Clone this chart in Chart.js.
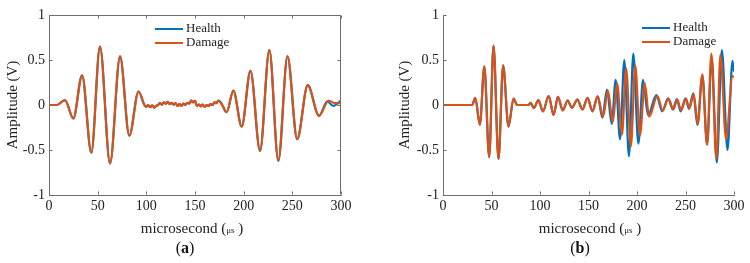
<!DOCTYPE html>
<html>
<head>
<meta charset="utf-8">
<script src="https://cdn.jsdelivr.net/npm/chart.js@4"></script>
<style>
  body { margin: 0; background: #fff; width: 750px; height: 263px; overflow: hidden; position: relative; font-family: 'Liberation Serif', 'Times New Roman', serif; }
  .panel { position: absolute; top: 0; width: 375px; height: 263px; }
  .xt { position: absolute; width: 240px; text-align: center; font-size: 15px; line-height: 18px; color: #222; }
  .xt span { font-size: 9px; }
  .cap { position: absolute; width: 60px; text-align: center; font-size: 16px; line-height: 20px; color: #111; }
</style>
</head>
<body>
<div class="panel" style="left:0"><canvas id="grafico-a" width="375" height="263"></canvas></div>
<div class="panel" style="left:375px"><canvas id="grafico-b" width="375" height="263"></canvas></div>
<div class="xt" style="left:72px;top:219px">microsecond (<span>μs</span> )</div>
<div class="xt" style="left:470px;top:219px">microsecond (<span>μs</span> )</div>
<div class="cap" style="left:155px;top:238px">(<b>a</b>)</div>
<div class="cap" style="left:550px;top:238px">(<b>b</b>)</div>
<script>
// Panel (a): both signals are the same up to ~277 µs
const timeA = [0, 8, 16.4, 25, 34, 43.5, 52.4, 62.7, 73, 82.5, 92,
  98, 100, 102, 104, 106, 108, 110, 112, 114, 116, 118, 120, 122, 124, 126, 128, 130, 132, 134, 136,
  138, 140, 142, 144, 146, 148, 150, 152, 154, 156, 158, 160, 162, 164, 166, 168, 170, 172, 174, 176, 178,
  182.5, 189.4, 198, 207, 216.8, 226.4, 235.6, 245, 255, 265.8, 277.4];
const ampA = [0, 0, 0.055, -0.15, 0.33, -0.53, 0.65, -0.65, 0.54, -0.34, 0.15,
  0, -0.02, 0, -0.025, -0.005, -0.03, -0.01, 0, 0.02, 0.005, 0.03, 0.015, 0.035, 0.01, 0.025, 0.005, 0.02, -0.01, 0.01, -0.01,
  0.015, 0, 0.025, 0.015, 0.05, 0.03, 0.045, -0.01, 0.005, -0.015, 0.005, -0.02, 0, -0.01, 0.01, 0, 0.03, 0.02, 0.05, 0.035, 0,
  -0.08, 0.16, -0.24, 0.38, -0.51, 0.61, -0.62, 0.54, -0.38, 0.22, -0.12];
const healthTailTimeA = [286, 292, 300];
const healthTailA = [0.04, -0.01, 0.05];
const damageTailTimeA = [287.5, 294, 300];
const damageTailA = [0.05, 0.02, 0.02];

// Panel (b): same up to ~160 µs, then they split
const timeB = [0, 30, 33.3, 38, 42.6, 47.6, 52.1, 57.2, 62, 67.5, 72.7, 76.5, 88, 90.3, 93.5, 98.4, 103,
  109, 114, 118.5, 123.5, 128.5, 133, 138.5, 143.8, 149, 154, 159.5];
const ampB = [0, 0, 0.08, -0.22, 0.43, -0.58, 0.66, -0.6, 0.44, -0.24, 0.07, 0, 0, 0.025, -0.035, 0.055, -0.07,
  0.1, -0.11, 0.09, -0.06, 0.05, -0.03, 0.06, -0.05, 0.08, -0.07, 0.095];
const healthTailTimeB = [164.3, 169, 174, 178, 182.5, 186.9, 191.7, 196.2, 201.4, 206.2, 211.3, 220, 226, 232, 237,
  241, 245, 250, 253.5, 258, 262.3, 267.3, 272.3, 277, 282.3, 287.5, 293.3, 298.4, 300];
const healthTailB = [-0.14, 0.17, -0.21, 0.28, -0.38, 0.5, -0.57, 0.57, -0.43, 0.28, -0.11, 0.11, -0.07, 0.075, -0.05,
  0.065, -0.07, 0.075, -0.04, 0.13, -0.22, 0.33, -0.44, 0.52, -0.64, 0.61, -0.5, 0.49, 0.37];
const damageTailTimeB = [165, 170, 175, 179.5, 184.5, 188.8, 193.7, 198.2, 203, 208, 212.5, 221, 226.5, 232.5, 237.5,
  241.5, 245.5, 250.5, 254, 258.4, 262.6, 267.4, 272.2, 276.7, 281.8, 286, 291.8, 298.5, 300];
const damageTailB = [-0.13, 0.16, -0.19, 0.24, -0.33, 0.41, -0.46, 0.44, -0.34, 0.24, -0.13, 0.1, -0.06, 0.07, -0.05,
  0.06, -0.06, 0.07, -0.04, 0.12, -0.21, 0.34, -0.44, 0.57, -0.6, 0.56, -0.38, 0.32, 0.31];

const seriesNames = ['Health', 'Damage'];
const xTicks = [0, 50, 100, 150, 200, 250, 300];
const yTicks = [-1, -0.5, 0, 0.5, 1];

const colorHealth = '#0072BD';
const colorDamage = '#D95319';
const axisColor = '#6e6e6e';
const textColor = '#222';
const serif = "'Liberation Serif', 'Times New Roman', serif";

Chart.defaults.font.family = serif;
Chart.defaults.color = textColor;

function puntos(ts, vs) {
  return ts.map((t, i) => ({ x: t, y: vs[i] }));
}

// legend drawn inside the plot area, matlab style
const leyenda = {
  id: 'leyenda',
  afterDatasetsDraw(chart, args, opts) {
    const { ctx, chartArea } = chart;
    ctx.save();
    ctx.font = '13px ' + serif;
    ctx.textBaseline = 'middle';
    chart.data.datasets.forEach((ds, i) => {
      const x = chartArea.left + opts.x;
      const y = chartArea.top + opts.y + i * 14;
      ctx.strokeStyle = ds.borderColor;
      ctx.lineWidth = 2;
      ctx.beginPath();
      ctx.moveTo(x, y);
      ctx.lineTo(x + 28, y);
      ctx.stroke();
      ctx.fillStyle = textColor;
      ctx.fillText(ds.label, x + 31, y);
    });
    ctx.restore();
  }
};

// inward tick marks and optional box
const marco = {
  id: 'marco',
  afterDraw(chart, args, opts) {
    const { ctx, chartArea: a, scales } = chart;
    const L = Math.round(a.left) + 0.5, R = Math.round(a.right) - 0.5;
    const T = Math.round(a.top) + 0.5, B = Math.round(a.bottom) - 0.5;
    ctx.save();
    ctx.strokeStyle = axisColor;
    ctx.lineWidth = 1;
    ctx.beginPath();
    if (opts.box) {
      ctx.moveTo(L, T); ctx.lineTo(R, T); ctx.lineTo(R, B);
    }
    xTicks.forEach(v => {
      const px = Math.round(scales.x.getPixelForValue(v)) + 0.5;
      ctx.moveTo(px, B); ctx.lineTo(px, B - 3);
      if (opts.box) { ctx.moveTo(px, T); ctx.lineTo(px, T + 3); }
    });
    yTicks.forEach(v => {
      const py = Math.round(scales.y.getPixelForValue(v)) + 0.5;
      ctx.moveTo(L, py); ctx.lineTo(L + 3, py);
      if (opts.box) { ctx.moveTo(R, py); ctx.lineTo(R - 3, py); }
    });
    ctx.stroke();
    ctx.restore();
  }
};

function crearGrafico(canvasId, health, damage, cfg) {
  return new Chart(document.getElementById(canvasId), {
    type: 'line',
    data: {
      datasets: [
        { label: seriesNames[0], data: health, borderColor: colorHealth, order: 1 },
        { label: seriesNames[1], data: damage, borderColor: colorDamage, order: 0 }
      ]
    },
    options: {
      responsive: false,
      animation: false,
      devicePixelRatio: 1,
      layout: { padding: { top: 15, bottom: 0, left: cfg.padLeft, right: cfg.padRight } },
      elements: {
        point: { radius: 0 },
        line: { borderWidth: 2.2, cubicInterpolationMode: 'monotone', fill: false }
      },
      plugins: {
        legend: { display: false },
        tooltip: { enabled: false },
        leyenda: { x: cfg.legX, y: cfg.legY },
        marco: { box: cfg.box }
      },
      scales: {
        x: {
          type: 'linear', min: 0, max: 300,
          afterBuildTicks: s => { s.ticks = xTicks.map(v => ({ value: v })); },
          afterFit: s => { s.height = 68; },
          grid: { display: false, drawTicks: false },
          border: { display: true, color: axisColor, width: 1 },
          ticks: { padding: 3, font: { size: 14 }, color: textColor, maxRotation: 0, callback: v => String(v) }
        },
        y: {
          min: -1, max: 1,
          afterBuildTicks: s => { s.ticks = yTicks.map(v => ({ value: v })); },
          afterFit: s => { s.width = cfg.yWidth; },
          grid: { display: false, drawTicks: false },
          border: { display: true, color: axisColor, width: 1 },
          ticks: { padding: 4, font: { size: 14 }, color: textColor, callback: v => String(v) },
          title: { display: true, text: 'Amplitude (V)', font: { size: 15 }, color: textColor, padding: { top: 4, bottom: 0 } }
        }
      }
    },
    plugins: [leyenda, marco]
  });
}

crearGrafico('grafico-a',
  puntos(timeA.concat(healthTailTimeA), ampA.concat(healthTailA)),
  puntos(timeA.concat(damageTailTimeA), ampA.concat(damageTailA)),
  { padLeft: 0, yWidth: 49, padRight: 34, legX: 106, legY: 14, box: true });

crearGrafico('grafico-b',
  puntos(timeB.concat(healthTailTimeB), ampB.concat(healthTailB)),
  puntos(timeB.concat(damageTailTimeB), ampB.concat(damageTailB)),
  { padLeft: 17, yWidth: 51, padRight: 16, legX: 199, legY: 13, box: false });
</script>
</body>
</html>
